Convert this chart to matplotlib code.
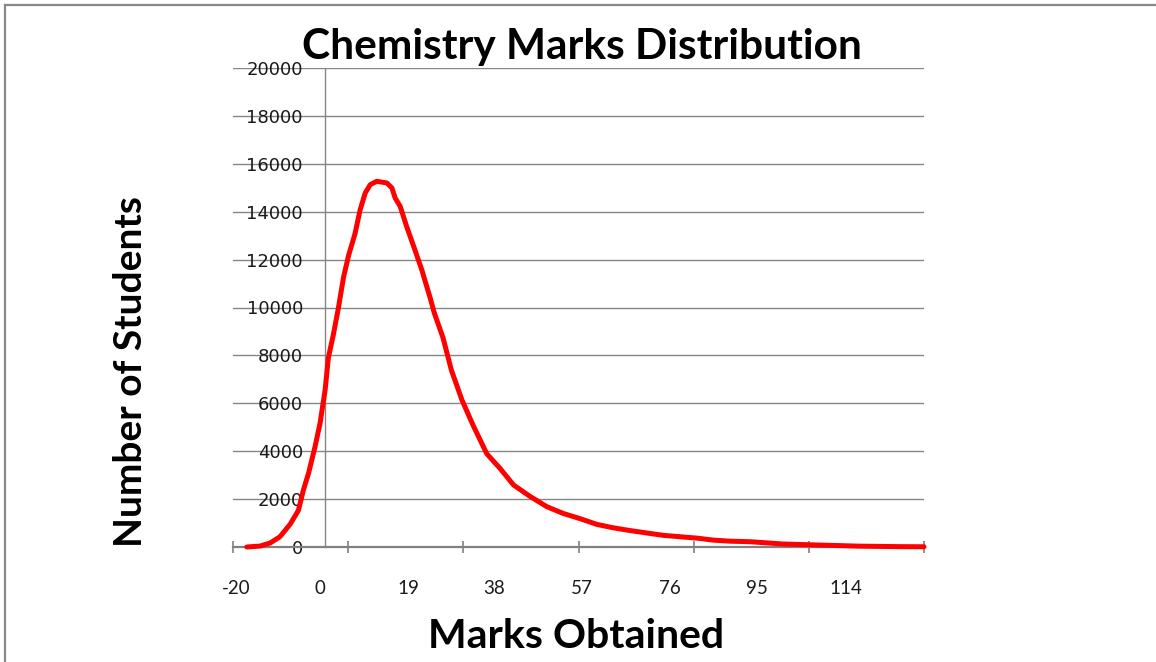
import matplotlib
matplotlib.use("Agg")
import matplotlib.pyplot as plt
import matplotlib.transforms as mtransforms
from matplotlib.lines import Line2D

# ---- data ----
marks = [-17.0, -14.1, -11.9, -9.8, -7.6, -5.8, -4.7, -3.6, -2.2, -1.1, 0.0,
         0.7, 1.8, 2.9, 4.0, 5.1, 6.5, 7.6, 8.7, 9.8, 11.2, 13.4, 14.5, 15.2,
         16.3, 17.7, 19.5, 21.0, 22.8, 23.7, 25.6, 27.4, 29.7, 32.2, 35.1,
         38.0, 40.9, 44.5, 48.1, 51.7, 55.3, 59.0, 62.6, 66.2, 69.8, 73.4,
         77.0, 80.7, 84.3, 87.9, 92.3, 99.4, 106.8, 116.0, 124.8, 130.0]
students = [0, 40, 170, 430, 950, 1530, 2390, 3080, 4180, 5170, 6560,
            7900, 8880, 10000, 11270, 12180, 13090, 14080, 14780, 15130, 15270,
            15200, 14990, 14570, 14220, 13380, 12400, 11560, 10400, 9770, 8730,
            7390, 6136, 5048, 3890, 3274, 2589, 2110, 1686, 1400, 1186, 943,
            800, 686, 586, 486, 429, 371, 286, 243, 220, 125, 84, 35, 15, 10]

xtick_labels = ["-20", "0", "19", "38", "57", "76", "95", "114"]
ytick_values = list(range(0, 20001, 2000))

title = "Chemistry Marks Distribution"
xlabel = "Marks Obtained"
ylabel = "Number of Students"

# ---- layout ----
W, H = 1156, 662
fig = plt.figure(figsize=(W / 100, H / 100), dpi=100)
fig.patch.set_facecolor("white")
FONT = "Lato"
GRAY = "#868686"
TXT = "#1a1a1a"

ax = fig.add_axes([233 / W, 1 - 547 / H, (924 - 233) / W, (547 - 68) / H])
ax.set_xlim(-20, 130)
ax.set_ylim(0, 20000)

ax.plot(marks, students, color="#ff0000", lw=3.6, solid_joinstyle="round",
        solid_capstyle="round", zorder=3, clip_on=False)

# gridlines and y tick labels
ax.set_yticks(ytick_values)
ax.yaxis.grid(True, color=GRAY, lw=1.0)
ax.set_axisbelow(True)
ax.tick_params(axis="y", length=0, pad=16, labelsize=13, labelcolor=TXT)
for lab in ax.get_yticklabels():
    lab.set_fontname(FONT)

# spines
for s in ["top", "right"]:
    ax.spines[s].set_visible(False)
ax.spines["left"].set_position(("data", 0))
ax.spines["left"].set_color(GRAY)
ax.spines["left"].set_linewidth(1.0)
ax.spines["bottom"].set_color("#808080")
ax.spines["bottom"].set_linewidth(1.6)

# x ticks: marks every 25, labels placed separately
ax.set_xticks(list(range(-20, 131, 25)))
ax.set_xticklabels([])
ax.tick_params(axis="x", direction="inout", length=9, width=1.2, color="#808080")

label_pos = [-19.3, -1.1, 18.0, 36.7, 55.8, 74.9, 93.8, 113.1]
tr = mtransforms.blended_transform_factory(ax.transData, fig.transFigure)
for p, t in zip(label_pos, xtick_labels):
    ax.text(p, 1 - 588 / H, t, transform=tr, ha="center", va="center",
            fontname=FONT, fontsize=13.5, color=TXT, clip_on=False)

# titles
fig.text(582 / W, 1 - 47 / H, title, ha="center", va="center",
         fontname=FONT, fontweight="bold", fontsize=30.5, color="black")
fig.text(576 / W, 1 - 637 / H, xlabel, ha="center", va="center",
         fontname=FONT, fontweight="bold", fontsize=29.5, color="black")
fig.text(130 / W, 1 - 372 / H, ylabel, ha="center", va="center", rotation=90,
         fontname=FONT, fontweight="bold", fontsize=28, color="black")

# chart-area border (top and left visible)
fig.add_artist(Line2D([5 / W, 1], [1 - 5 / H, 1 - 5 / H], transform=fig.transFigure,
                      color="#888888", lw=1.6))
fig.add_artist(Line2D([5 / W, 5 / W], [1 - 5 / H, 0], transform=fig.transFigure,
                      color="#888888", lw=1.6))

fig.savefig("out.png", dpi=100)
